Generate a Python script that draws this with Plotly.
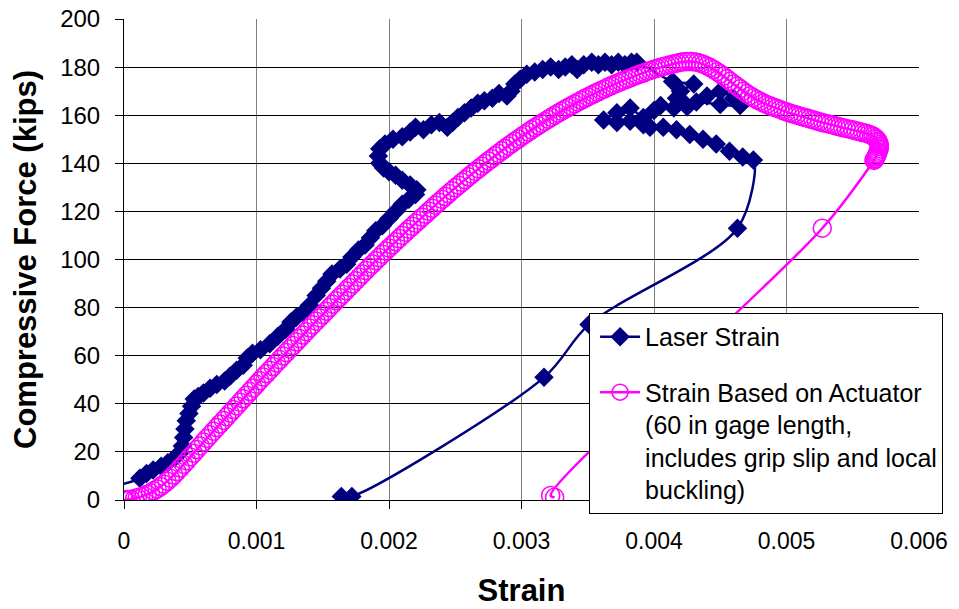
import plotly.graph_objects as go

# ---------------- data ----------------
laser_strain = [
    -0.00008, 0.00012, 0.00017, 0.00022, 0.00028, 0.00033, 0.00038, 0.00042, 0.00044, 0.00045,
    0.00046, 0.00047, 0.00049, 0.00051, 0.00053, 0.00056, 0.0006, 0.00065, 0.0007, 0.00076,
    0.0008, 0.00085, 0.0009, 0.00093, 0.00097, 0.00103, 0.0011, 0.00116, 0.00122, 0.00126,
    0.0013, 0.00135, 0.0014, 0.00145, 0.00149, 0.00153, 0.00157, 0.00163, 0.00168, 0.00172,
    0.00177, 0.00182, 0.00186, 0.0019, 0.00195, 0.002, 0.00205, 0.0021, 0.00215, 0.0022,
    0.00221, 0.00216, 0.0021, 0.00205, 0.002, 0.00196, 0.00193, 0.00192, 0.00193, 0.00197,
    0.00203, 0.0021, 0.00216, 0.0022, 0.00226, 0.00232, 0.00238, 0.00244, 0.00248, 0.00252,
    0.00257, 0.00262, 0.00267, 0.00272, 0.00278, 0.00283, 0.00289, 0.00292, 0.00295, 0.00299,
    0.00304, 0.0031, 0.00316, 0.00322, 0.00328, 0.00333, 0.00338, 0.00342, 0.00347, 0.00353,
    0.00358, 0.00363, 0.00368, 0.00373, 0.00378, 0.00383, 0.00387,
    0.00414, 0.0043, 0.0042, 0.00417, 0.00425, 0.0044, 0.0045, 0.0046, 0.00465, 0.0045,
    0.00432, 0.00422, 0.00415, 0.00405, 0.004, 0.00392, 0.00382, 0.00372, 0.00362, 0.00372,
    0.00382, 0.00392, 0.00397, 0.00407, 0.00417, 0.00427, 0.00437, 0.00447, 0.00457, 0.00467,
    0.00475, 0.00463, 0.00351, 0.00317, 0.00172, 0.00164,
]
laser_force = [
    5.5, 9, 11, 12.5, 14, 15.5, 17.5, 19.5, 22.5, 26,
    29.5, 33, 36, 39, 42, 43, 44.5, 46.5, 48, 49.5,
    51.5, 54, 56, 59, 61, 62.5, 65, 68, 71, 74,
    76, 78, 81, 85, 88, 91, 94, 96, 98, 101,
    104, 106, 109, 112, 114, 117, 120, 123, 125, 127,
    129, 131, 133, 135, 136.5, 138, 140, 143, 146, 148,
    150, 151, 153, 155, 154, 156, 157, 155, 157, 159,
    161, 163, 165, 166, 167, 169, 168, 170, 173, 175,
    177, 178, 179, 180, 179, 180, 181, 179, 181, 182,
    181, 182, 181, 182, 181, 182, 182,
    174, 173, 170, 167, 163.5, 168, 170, 167, 164, 164.5,
    165.5, 165.5, 163, 164, 162, 159, 163, 161, 158, 157,
    157.5, 156, 155, 155, 154, 152, 150, 148, 145, 142.6,
    141.4, 113, 73, 51, 1.5, 1.5,
]

actuator_strain = [
    0.0, 0.00001, 0.00003, 0.00005, 0.00008,
    0.0001, 0.000125, 0.00015, 0.000175, 0.0002, 0.000225, 0.00025, 0.000275,
    0.0003, 0.000325, 0.00035, 0.000375, 0.0004, 0.000425, 0.00045, 0.000475,
    0.0005, 0.000525, 0.00055, 0.000575, 0.0006, 0.000625, 0.00065, 0.000675,
    0.0007, 0.000725, 0.00075, 0.000775, 0.0008, 0.000825, 0.00085, 0.000875,
    0.0009, 0.000925, 0.00095, 0.000975, 0.001, 0.001025, 0.00105, 0.001075,
    0.0011, 0.001125, 0.00115, 0.001175, 0.0012, 0.001225, 0.00125, 0.001275,
    0.0013, 0.001325, 0.00135, 0.001375, 0.0014, 0.001425, 0.00145, 0.001475,
    0.0015, 0.001525, 0.00155, 0.001575, 0.0016, 0.001625, 0.00165, 0.001675,
    0.0017, 0.001725, 0.00175, 0.001775, 0.0018, 0.001825, 0.00185, 0.001875,
    0.0019, 0.001925, 0.00195, 0.001975, 0.002, 0.002025, 0.00205, 0.002075,
    0.0021, 0.002125, 0.00215, 0.002175, 0.0022, 0.002225, 0.00225, 0.002275,
    0.0023, 0.002325, 0.00235, 0.002375, 0.0024, 0.002425, 0.00245, 0.002475,
    0.0025, 0.002525, 0.00255, 0.002575, 0.0026, 0.002625, 0.00265, 0.002675,
    0.0027, 0.002725, 0.00275, 0.002775, 0.0028, 0.002825, 0.00285, 0.002875,
    0.0029, 0.002925, 0.00295, 0.002975, 0.003, 0.003025, 0.00305, 0.003075,
    0.0031, 0.003125, 0.00315, 0.003175, 0.0032, 0.003225, 0.00325, 0.003275,
    0.0033, 0.003325, 0.00335, 0.003375, 0.0034, 0.003425, 0.00345, 0.003475,
    0.0035, 0.003525, 0.00355, 0.003575, 0.0036, 0.003625, 0.00365, 0.003675,
    0.0037, 0.003725, 0.00375, 0.003775, 0.0038, 0.003825, 0.00385, 0.003875,
    0.0039, 0.003925, 0.00395, 0.003975, 0.004, 0.004025, 0.00405, 0.004075,
    0.0041, 0.004125, 0.00415, 0.004175, 0.0042, 0.004225, 0.00425, 0.004275,
    0.0043, 0.004325, 0.00435, 0.004375, 0.0044, 0.004425, 0.00445, 0.004475,
    0.0045, 0.004525, 0.00455, 0.004575, 0.0046, 0.004625, 0.00465, 0.004675,
    0.0047, 0.004725, 0.00475, 0.004775, 0.0048, 0.004825, 0.00485, 0.004875,
    0.0049, 0.004925, 0.00495, 0.004975, 0.005, 0.005025, 0.00505, 0.005075,
    0.0051, 0.005125, 0.00515, 0.005175, 0.0052, 0.005225, 0.00525, 0.005275,
    0.0053, 0.005325, 0.00535, 0.005375, 0.0054, 0.005425, 0.00545, 0.005475,
    0.0055, 0.005525, 0.00555, 0.005575, 0.0056,
    0.00562, 0.00564, 0.005655, 0.00567, 0.00568, 0.00569, 0.005695, 0.0057,
    0.0057, 0.0057, 0.005695, 0.00569, 0.005685, 0.00568, 0.005675, 0.00567,
    0.005665, 0.00566,
    0.00527, 0.00322, 0.00325,
]
actuator_force = [
    0.0, 0.1, 0.2, 0.3, 0.6,
    0.9, 1.3, 1.8, 2.4, 3.0, 3.8, 4.6, 5.6,
    6.6, 7.8, 9.0, 10.4, 11.8, 13.3, 14.8, 16.3,
    17.9, 19.4, 21.0, 22.5, 24.1, 25.6, 27.1, 28.6,
    30.1, 31.6, 33.1, 34.6, 36.1, 37.6, 39.1, 40.6,
    42.1, 43.6, 45.1, 46.6, 48.1, 49.6, 51.1, 52.5,
    54.0, 55.5, 57.0, 58.4, 59.9, 61.3, 62.8, 64.2,
    65.7, 67.1, 68.6, 70.0, 71.5, 72.9, 74.3, 75.7,
    77.1, 78.5, 80.0, 81.4, 82.8, 84.2, 85.6, 87.0,
    88.4, 89.8, 91.2, 92.6, 94.0, 95.4, 96.8, 98.1,
    99.5, 100.8, 102.2, 103.5, 104.8, 106.1, 107.4, 108.7,
    110.0, 111.3, 112.6, 113.8, 115.1, 116.3, 117.6, 118.8,
    120.1, 121.3, 122.6, 123.8, 125.0, 126.2, 127.4, 128.6,
    129.8, 130.9, 132.1, 133.2, 134.4, 135.5, 136.6, 137.7,
    138.8, 139.9, 141.0, 142.0, 143.1, 144.1, 145.2, 146.2,
    147.2, 148.2, 149.2, 150.1, 151.1, 152.0, 153.0, 153.9,
    154.8, 155.7, 156.6, 157.4, 158.3, 159.1, 160.0, 160.8,
    161.6, 162.4, 163.2, 163.9, 164.7, 165.4, 166.2, 166.9,
    167.6, 168.3, 169.0, 169.6, 170.3, 170.9, 171.6, 172.2,
    172.8, 173.4, 174.0, 174.5, 175.1, 175.6, 176.2, 176.7,
    177.2, 177.7, 178.2, 178.6, 179.1, 179.5, 179.9, 180.3,
    180.7, 181.0, 181.4, 181.7, 182.0, 182.2, 182.3, 182.3,
    182.2, 182.0, 181.6, 181.1, 180.5, 179.8, 179.0, 178.1,
    177.2, 176.2, 175.2, 174.1, 173.0, 172.0, 171.0, 170.0,
    169.0, 168.1, 167.3, 166.5, 165.8, 165.1, 164.5, 163.9,
    163.4, 162.9, 162.4, 161.9, 161.4, 160.9, 160.5, 160.1,
    159.7, 159.3, 158.9, 158.5, 158.1, 157.7, 157.3, 156.9,
    156.6, 156.2, 155.9, 155.5, 155.2, 154.8, 154.5, 154.2,
    153.9, 153.5, 153.2, 152.8, 152.5,
    152.1, 151.7, 151.2, 150.6, 150.0, 149.3, 148.6, 147.8,
    147.0, 146.2, 145.4, 144.6, 143.9, 143.2, 142.6, 142.0,
    141.6, 141.2,
    113.0, 1.9, 1.1,
]
assert len(laser_strain) == len(laser_force)
assert len(actuator_strain) == len(actuator_force)

x_tick_vals = [0, 0.001, 0.002, 0.003, 0.004, 0.005, 0.006]
x_tick_text = ["0", "0.001", "0.002", "0.003", "0.004", "0.005", "0.006"]
y_tick_vals = [0, 20, 40, 60, 80, 100, 120, 140, 160, 180, 200]
y_tick_text = [str(v) for v in y_tick_vals]

laser_name = "Laser Strain"
actuator_name = ("Strain Based on Actuator<br>(60 in gage length,<br>"
                 "includes grip slip and local<br>buckling)")

# ---------------- figure ----------------
FONT = "Arial, Liberation Sans, Helvetica, sans-serif"
NAVY = "#000080"
MAGENTA = "#FF00FF"

fig = go.Figure()
fig.add_trace(go.Scatter(
    x=laser_strain, y=laser_force, name=laser_name, legendgroup="a",
    mode="lines+markers",
    line=dict(color=NAVY, width=2.5, shape="spline", smoothing=0.9),
    marker=dict(symbol="diamond", size=15, color=NAVY, line=dict(width=0)),
))
fig.add_trace(go.Scatter(
    x=actuator_strain, y=actuator_force, name=actuator_name, legendgroup="b",
    mode="lines+markers",
    line=dict(color=MAGENTA, width=2.5, shape="spline", smoothing=1.0),
    marker=dict(symbol="circle-open", size=18, color=MAGENTA,
                line=dict(width=1.5, color=MAGENTA)),
))

fig.update_layout(
    width=959, height=609,
    margin=dict(l=124, r=40, t=19, b=109, pad=0),
    paper_bgcolor="white", plot_bgcolor="white",
    font=dict(family=FONT, color="black", size=23),
    showlegend=True,
    legend=dict(
        x=0.585, xanchor="left", y=0.389, yanchor="top",
        bgcolor="white", bordercolor="black", borderwidth=1,
        font=dict(family=FONT, size=25, color="black"),
        tracegroupgap=20, traceorder="grouped", valign="top",
        itemwidth=40, indentation=5,
    ),
    hovermode=False,
)
fig.update_xaxes(
    range=[0, 0.006], tickvals=x_tick_vals, ticktext=x_tick_text,
    showgrid=True, gridcolor="#808080", gridwidth=1,
    showline=True, linecolor="black", linewidth=1,
    ticks="outside", ticklen=8, tickcolor="black",
    zeroline=False, ticklabelstandoff=12, automargin=False,
    ticklabeloverflow="allow",
    tickfont=dict(family=FONT, size=23),
    title=dict(text="Strain", standoff=26,
               font=dict(family=FONT, size=31, weight="bold")),
)
fig.update_yaxes(
    range=[0, 200], tickvals=y_tick_vals, ticktext=y_tick_text,
    showgrid=True, gridcolor="black", gridwidth=1,
    showline=True, linecolor="black", linewidth=1,
    ticks="outside", ticklen=8, tickcolor="black",
    zeroline=False, ticklabelstandoff=10, automargin=False,
    ticklabeloverflow="allow",
    tickfont=dict(family=FONT, size=24),
    title=dict(text="Compressive Force (kips)", standoff=14,
               font=dict(family=FONT, size=31, weight="bold")),
)

# remove the browser's default 8px page margin so the figure fills the window
fig.write_html("out.html",
               config={"displayModeBar": False},
               post_script="document.body.style.margin='0';")
